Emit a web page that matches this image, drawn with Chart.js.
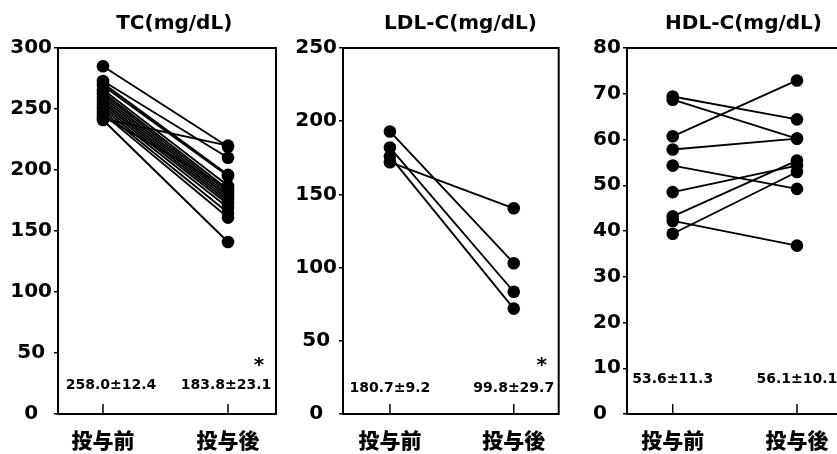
<!DOCTYPE html>
<html lang="ja">
<head>
<meta charset="UTF-8">
<title>TC / LDL-C / HDL-C</title>
<script src="https://cdn.jsdelivr.net/npm/chart.js@4.4.0/dist/chart.umd.min.js"></script>
<style>
    html, body { margin: 0; padding: 0; background: #fff; overflow: hidden; width: 837px; height: 454px; }
    canvas { position: absolute; top: 0; }
</style>
</head>
<body>
<canvas id="tcChart" width="285" height="454" style="left:0"></canvas>
<canvas id="ldlChart" width="280" height="454" style="left:285px"></canvas>
<canvas id="hdlChart" width="280" height="454" style="left:565px"></canvas>
<script>
    // categories
    var groups = ['投与前', '投与後'];

    // TC (mg/dL), one entry per subject
    var tcPre  = [285, 273, 271, 269, 266, 264, 262, 260, 258, 256, 254, 252, 250, 248, 246, 244, 242, 241];
    var tcPost = [219, 210, 196, 195, 187, 184, 182, 180, 178, 176, 174, 172, 169, 165, 161, 185, 220, 141];
    var tcStats = ['258.0±12.4', '183.8±23.1'];

    // LDL-C (mg/dL)
    var ldlPre  = [193, 182, 176, 172];
    var ldlPost = [103, 83.5, 72, 140.5];
    var ldlStats = ['180.7±9.2', '99.8±29.7'];

    // HDL-C (mg/dL)
    var hdlPre  = [69.4, 68.7, 60.7, 57.8, 54.3, 48.5, 43.2, 42.2, 39.4];
    var hdlPost = [64.4, 60.2, 72.9, 60.2, 49.2, 54.3, 55.4, 36.8, 52.9];
    var hdlStats = ['53.6±11.3', '56.1±10.1'];

    // y axis ranges / tick steps
    var tcMax = 300, tcStep = 50;
    var ldlMax = 250, ldlStep = 50;
    var hdlMax = 80, hdlStep = 10;

    // box, inward ticks, title, mean±SD and significance mark
    var panelDeco = {
        id: 'panelDeco',
        afterDraw: function (chart, args, opts) {
            var ctx = chart.ctx, a = chart.chartArea, xs = chart.scales.x;
            ctx.save();
            ctx.strokeStyle = '#000';
            ctx.lineWidth = 2;
            ctx.strokeRect(a.left, a.top, a.right - a.left, a.bottom - a.top);

            ctx.lineWidth = 1.5;
            groups.forEach(function (g, i) {
                var px = xs.getPixelForValue(i);
                ctx.beginPath();
                ctx.moveTo(px, a.bottom);
                ctx.lineTo(px, a.bottom - 10);
                ctx.stroke();
            });

            ctx.fillStyle = '#000';
            ctx.textAlign = 'center';
            ctx.textBaseline = 'middle';
            ctx.font = 'bold 20px "DejaVu Sans"';
            ctx.fillText(opts.title, xs.getPixelForValue(0.57), 24);

            ctx.font = 'bold 14px "DejaVu Sans"';
            opts.stats.forEach(function (s, i) {
                ctx.fillText(s, xs.getPixelForValue(i) + (opts.statShift ? opts.statShift[i] : 0), a.bottom - opts.statUp);
            });

            if (opts.star) {
                ctx.font = 'bold 20px "DejaVu Sans"';
                ctx.fillText('*', a.right - 17, a.bottom - 48);
            }
            ctx.restore();
        }
    };

    function makePanel(id, cfg) {
        var datasets = cfg.pre.map(function (v, i) {
            return {
                data: [{x: 0, y: v}, {x: 1, y: cfg.post[i]}],
                borderColor: '#000',
                backgroundColor: '#000',
                borderWidth: 1.9,
                pointRadius: 6.3,
                pointHoverRadius: 6.3,
                pointBorderWidth: 0,
                tension: 0
            };
        });

        return new Chart(document.getElementById(id).getContext('2d'), {
            type: 'line',
            data: {datasets: datasets},
            plugins: [panelDeco],
            options: {
                responsive: false,
                animation: false,
                events: [],
                layout: {padding: {top: 48, right: cfg.padRight, left: cfg.padLeft, bottom: 0}},
                plugins: {
                    legend: {display: false},
                    tooltip: {enabled: false},
                    panelDeco: {title: cfg.title, stats: cfg.stats, star: cfg.star, statUp: cfg.statUp, statShift: cfg.statShift}
                },
                scales: {
                    x: {
                        type: 'linear',
                        min: cfg.xMin,
                        max: cfg.xMax,
                        grid: {display: false, drawTicks: false},
                        border: {display: false},
                        afterBuildTicks: function (s) {
                            s.ticks = groups.map(function (g, i) { return {value: i}; });
                        },
                        ticks: {
                            autoSkip: false,
                            maxRotation: 0,
                            padding: 13,
                            color: '#000',
                            font: {family: '"Noto Sans CJK JP"', size: 21, weight: '900'},
                            callback: function (v) { return groups[v]; }
                        },
                        afterFit: function (s) { s.height = 40; }
                    },
                    y: {
                        min: 0,
                        max: cfg.yMax,
                        grid: {drawOnChartArea: false, drawTicks: true, tickLength: 4, color: '#000', lineWidth: 1.5},
                        border: {display: false},
                        ticks: {
                            stepSize: cfg.yStep,
                            padding: 2,
                            crossAlign: cfg.crossAlign,
                            color: '#000',
                            font: {family: '"DejaVu Sans"', size: 20, weight: 'bold'}
                        },
                        afterFit: function (s) { s.width = cfg.yWidth; }
                    }
                }
            }
        });
    }

    window.onload = function () {
        makePanel('tcChart', {
            title: 'TC(mg/dL)', pre: tcPre, post: tcPost, stats: tcStats, star: true,
            yMax: tcMax, yStep: tcStep, xMin: -0.36, xMax: 1.384,
            yWidth: 58, padLeft: 0, padRight: 9, crossAlign: 'center', statUp: 29, statShift: [8, -2]
        });
        makePanel('ldlChart', {
            title: 'LDL-C(mg/dL)', pre: ldlPre, post: ldlPost, stats: ldlStats, star: true,
            yMax: ldlMax, yStep: ldlStep, xMin: -0.379, xMax: 1.363,
            yWidth: 58, padLeft: 0, padRight: 6, crossAlign: 'center', statUp: 26
        });
        makePanel('hdlChart', {
            title: 'HDL-C(mg/dL)', pre: hdlPre, post: hdlPost, stats: hdlStats, star: false,
            yMax: hdlMax, yStep: hdlStep, xMin: -0.368, xMax: 1.336,
            yWidth: 34, padLeft: 28, padRight: 5, crossAlign: 'far', statUp: 35
        });
    };
</script>
</body>
</html>
